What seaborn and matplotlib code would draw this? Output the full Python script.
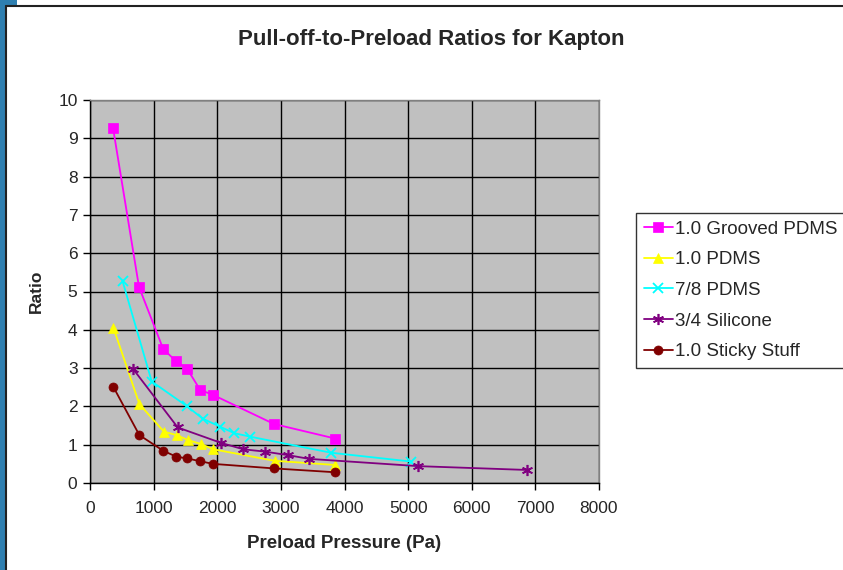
import matplotlib
matplotlib.use("Agg")
import matplotlib.pyplot as plt
import matplotlib.patches as mpatches
import matplotlib.lines as mlines
import seaborn as sns
import pandas as pd

# ---- data ----
grooved_x = [362, 770, 1150, 1352, 1527, 1732, 1934, 2893, 3855]
grooved_y = [9.27, 5.12, 3.50, 3.18, 2.98, 2.43, 2.30, 1.54, 1.16]

pdms_x = [367, 776, 1162, 1363, 1541, 1740, 1939, 2900, 3857]
pdms_y = [4.06, 2.06, 1.34, 1.25, 1.12, 1.02, 0.88, 0.58, 0.47]

pdms78_x = [512, 970, 1520, 1772, 2044, 2269, 2516, 3790, 5047]
pdms78_y = [5.27, 2.65, 2.01, 1.68, 1.47, 1.30, 1.21, 0.79, 0.56]

silicone_x = [681, 1379, 2055, 2410, 2745, 3105, 3443, 5162, 6876]
silicone_y = [2.97, 1.45, 1.05, 0.88, 0.82, 0.73, 0.63, 0.44, 0.34]

sticky_x = [367, 776, 1153, 1352, 1530, 1730, 1929, 2898, 3857]
sticky_y = [2.51, 1.25, 0.84, 0.69, 0.64, 0.57, 0.50, 0.38, 0.28]

series_names = ["1.0 Grooved PDMS", "1.0 PDMS", "7/8 PDMS", "3/4 Silicone", "1.0 Sticky Stuff"]
x_ticks = [0, 1000, 2000, 3000, 4000, 5000, 6000, 7000, 8000]
y_ticks = [0, 1, 2, 3, 4, 5, 6, 7, 8, 9, 10]

title = "Pull-off-to-Preload Ratios for Kapton"
xlabel = "Preload Pressure (Pa)"
ylabel = "Ratio"

# ---- styles ----
styles = [
    dict(color="#FF00FF", marker="s", ms=6.5, mew=0.5),
    dict(color="#FFFF00", marker="^", ms=7, mew=0.5),
    dict(color="#00FFFF", marker="x", ms=7, mew=1.3),
    dict(color="#800080", marker=(6, 2, 0), ms=8, mew=1.2),
    dict(color="#800000", marker="o", ms=6.5, mew=0.5),
]

sns.set_style("white")
plt.rcParams["font.family"] = ["Liberation Sans", "DejaVu Sans"]

fig = plt.figure(figsize=(8.43, 5.70), dpi=100)

# frame decoration (blue strip at the left, dark border lines)
fig.patches.append(mpatches.Rectangle((0, 0), 6 / 843, 1, transform=fig.transFigure,
                                      facecolor="#2F7FB0", edgecolor="none", zorder=0))
fig.patches.append(mpatches.Rectangle((0, 1 - 6 / 570), 17 / 843, 6 / 570, transform=fig.transFigure,
                                      facecolor="#2F7FB0", edgecolor="none", zorder=0))
fig.lines.append(mlines.Line2D([6 / 843, 1], [1 - 6 / 570, 1 - 6 / 570], transform=fig.transFigure,
                               color="#222222", lw=1.5))
fig.lines.append(mlines.Line2D([6 / 843, 6 / 843], [0, 1 - 6 / 570], transform=fig.transFigure,
                               color="#222222", lw=1.5))

ax = fig.add_axes([90 / 843, 1 - 483 / 570, (599 - 90) / 843, (483 - 100) / 570])
ax.set_facecolor("#C0C0C0")

all_x = [grooved_x, pdms_x, pdms78_x, silicone_x, sticky_x]
all_y = [grooved_y, pdms_y, pdms78_y, silicone_y, sticky_y]
for name, xs, ys, st in zip(series_names, all_x, all_y, styles):
    df = pd.DataFrame({"x": xs, "y": ys})
    sns.lineplot(data=df, x="x", y="y", ax=ax, sort=False, estimator=None,
                 color=st["color"], marker=st["marker"], markersize=st["ms"],
                 markeredgewidth=st["mew"], markeredgecolor=st["color"],
                 linewidth=1.3, label=name, clip_on=False, zorder=3)

ax.set_xlim(0, 8000)
ax.set_ylim(0, 10)
ax.set_xticks(x_ticks)
ax.set_yticks(y_ticks)
ax.grid(True, color="black", linewidth=1.0)
ax.set_axisbelow(True)
ax.tick_params(axis="both", direction="out", length=5, width=1, color="black",
               labelsize=12.5, bottom=True, left=True, pad=4)
ax.tick_params(axis="x", pad=8)
for side in ["left", "bottom"]:
    ax.spines[side].set_color("black")
    ax.spines[side].set_linewidth(1.0)
for side in ["top", "right"]:
    ax.spines[side].set_color("#808080")
    ax.spines[side].set_linewidth(1.0)

ax.set_xlabel(xlabel, fontsize=13.5, fontweight="bold", labelpad=14)
ax.set_ylabel(ylabel, fontsize=12.5, fontweight="bold", labelpad=10)

fig.text(431 / 843, 1 - 40 / 570, title, ha="center", va="center",
         fontsize=16, fontweight="bold")

leg = ax.legend(loc="upper left", bbox_to_anchor=(636 / 843, 1 - 213 / 570),
                bbox_transform=fig.transFigure, frameon=True, fancybox=False,
                fontsize=13.5, handlelength=1.55, handletextpad=0.15,
                labelspacing=0.72, borderpad=0.4, borderaxespad=0)
leg.get_frame().set_edgecolor("black")
leg.get_frame().set_linewidth(1.0)

fig.savefig("out.png", dpi=100)
